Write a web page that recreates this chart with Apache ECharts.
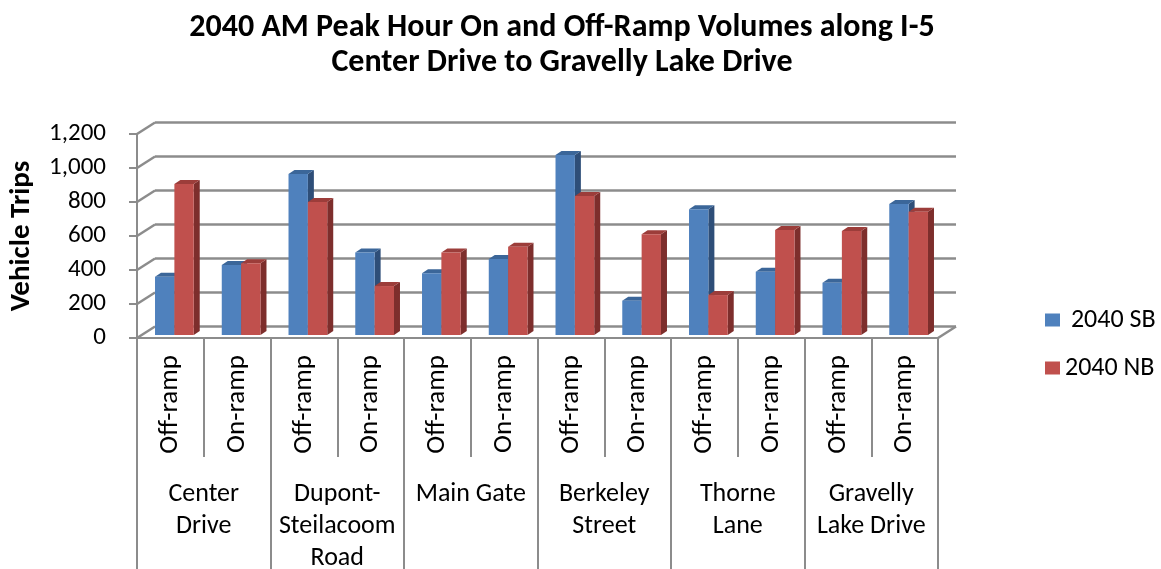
<!DOCTYPE html>
<html>
<head>
<meta charset="utf-8">
<script src="https://cdn.jsdelivr.net/npm/echarts@6/dist/echarts.min.js"></script>
<style>
  html, body { margin: 0; padding: 0; background: #fff; }
  #chart { width: 1161px; height: 569px; }
</style>
</head>
<body>
<div id="chart"></div>
<script>
// data
const ramps = ['Off-ramp', 'On-ramp', 'Off-ramp', 'On-ramp', 'Off-ramp', 'On-ramp',
  'Off-ramp', 'On-ramp', 'Off-ramp', 'On-ramp', 'Off-ramp', 'On-ramp']
const interchanges = ['Center\nDrive', 'Dupont-\nSteilacoom\nRoad', 'Main Gate',
  'Berkeley\nStreet', 'Thorne\nLane', 'Gravelly\nLake Drive']
const sb2040 = [343, 412, 947, 486, 363, 447, 1059, 202, 739, 372, 308, 771]
const nb2040 = [888, 422, 782, 288, 486, 519, 818, 592, 235, 618, 612, 725]
const yTicks = [0, 200, 400, 600, 800, 1000, 1200]

const FONT = 'Carlito, Lato, sans-serif'
const GRID = '#8c8c8c'
// offset of the back wall from the front plane
const DEPTH = [18, -11.5]
// depth of each bar block
const BAR_D = [6, -4]

const chart = echarts.init(document.getElementById('chart'))

function barRenderer(side, front, topC, sideC) {
  return function (params, api) {
    const i = api.value(0)
    const v = api.value(1)
    const top = api.coord([i, v])
    const base = api.coord([i, 0])
    const bw = api.size([1, 0])[0] * 0.29
    const cx = top[0] + 4
    const x0 = side === 0 ? cx - bw : cx
    const yb = base[1] - 3
    const yt = top[1] - 3
    const x1 = x0 + bw
    const dx = BAR_D[0], dy = BAR_D[1]
    return {
      type: 'group',
      children: [
        { type: 'polygon', shape: { points: [[x1, yt], [x1 + dx, yt + dy], [x1 + dx, yb + dy], [x1, yb]] },
          style: { fill: sideC } },
        { type: 'polygon', shape: { points: [[x0, yt], [x0 + dx, yt + dy], [x1 + dx, yt + dy], [x1, yt]] },
          style: { fill: topC } },
        { type: 'rect', shape: { x: x0, y: yt, width: bw, height: yb - yt },
          style: { fill: front } }
      ]
    }
  }
}

const option = {
  animation: false,
  textStyle: { fontFamily: FONT },
  title: {
    text: '2040 AM Peak Hour On and Off-Ramp Volumes along I-5\nCenter Drive to Gravelly Lake Drive',
    left: 557,
    textAlign: 'center',
    top: 5,
    textStyle: { fontFamily: FONT, fontSize: 32, fontWeight: 'bold', color: '#000', lineHeight: 35 }
  },
  legend: {
    orient: 'vertical',
    left: 1040,
    top: 302,
    itemWidth: 15,
    itemHeight: 13,
    itemGap: 22,
    icon: 'rect',
    formatter: name => (name === '2040 SB' ? ' ' + name : name),
    textStyle: { fontFamily: FONT, fontSize: 26, color: '#000' },
    data: ['2040 SB', '2040 NB']
  },
  grid: [
    // back wall
    { left: 137 + DEPTH[0], right: 223 - DEPTH[0], top: 134 + DEPTH[1], height: 204, outerBoundsMode: 'none' },
    // front plane
    { left: 137, right: 223, top: 134, height: 204, outerBoundsMode: 'none' }
  ],
  xAxis: [
    { gridIndex: 0, type: 'category', data: ramps, show: false },
    {
      gridIndex: 1, type: 'category', data: ramps,
      axisLine: { show: true, lineStyle: { color: GRID, width: 2 } },
      axisTick: { show: true, interval: 0, length: 119, lineStyle: { color: GRID, width: 2 } },
      axisLabel: { interval: 0, rotate: 90, margin: 17, fontSize: 27, color: '#000', fontFamily: FONT }
    },
    {
      gridIndex: 1, type: 'category', data: interchanges, position: 'bottom',
      axisLine: { show: false },
      axisTick: { show: true, interval: 0, length: 240, lineStyle: { color: GRID, width: 2 } },
      axisLabel: {
        interval: 0, hideOverlap: false, margin: 140, fontSize: 26, lineHeight: 32,
        color: '#000', fontFamily: FONT, verticalAlign: 'top', align: 'center'
      }
    }
  ],
  yAxis: [
    {
      gridIndex: 0, type: 'value', min: 0, max: 1200, interval: 200,
      axisLine: { show: false }, axisTick: { show: false }, axisLabel: { show: false },
      splitLine: { show: true, lineStyle: { color: GRID, width: 2.5 } }
    },
    {
      gridIndex: 1, type: 'value', min: 0, max: 1200, interval: 200,
      name: 'Vehicle Trips', nameLocation: 'middle', nameGap: 101, nameRotate: 90,
      nameTextStyle: { fontFamily: FONT, fontSize: 29, fontWeight: 'bold', color: '#000' },
      axisLine: { show: true, lineStyle: { color: GRID, width: 2 } },
      axisTick: { show: true, length: 8, lineStyle: { color: GRID, width: 2 } },
      axisLabel: {
        fontSize: 25, color: '#000', margin: 31, fontFamily: FONT,
        formatter: v => v.toLocaleString('en-US')
      },
      splitLine: { show: false }
    }
  ],
  series: [
    {
      // diagonal connectors from the front axis to the back wall, plus floor corner
      type: 'custom', xAxisIndex: 1, yAxisIndex: 1, silent: true,
      data: yTicks.map(v => [0, v]),
      renderItem: function (params, api) {
        const cs = params.coordSys
        const y = api.coord([0, api.value(1)])[1]
        const kids = [{ type: 'line', shape: { x1: cs.x, y1: y, x2: cs.x + DEPTH[0], y2: y + DEPTH[1] },
          style: { stroke: GRID, lineWidth: 2.5 } }]
        if (api.value(1) === 0) {
          const xr = cs.x + cs.width
          kids.push({ type: 'line', shape: { x1: xr, y1: y, x2: xr + DEPTH[0], y2: y + DEPTH[1] },
            style: { stroke: GRID, lineWidth: 2.5 } })
        }
        return { type: 'group', children: kids }
      }
    },
    {
      name: '2040 SB', type: 'custom', xAxisIndex: 1, yAxisIndex: 1,
      itemStyle: { color: '#4F81BD' },
      data: sb2040.map((v, i) => [i, v]),
      renderItem: barRenderer(0, '#4F81BD', '#3B6699', '#2E4E78')
    },
    {
      name: '2040 NB', type: 'custom', xAxisIndex: 1, yAxisIndex: 1,
      itemStyle: { color: '#C0504D' },
      data: nb2040.map((v, i) => [i, v]),
      renderItem: barRenderer(1, '#C0504D', '#9C3D3A', '#7D2E2C')
    }
  ]
}

chart.setOption(option)
</script>
</body>
</html>
